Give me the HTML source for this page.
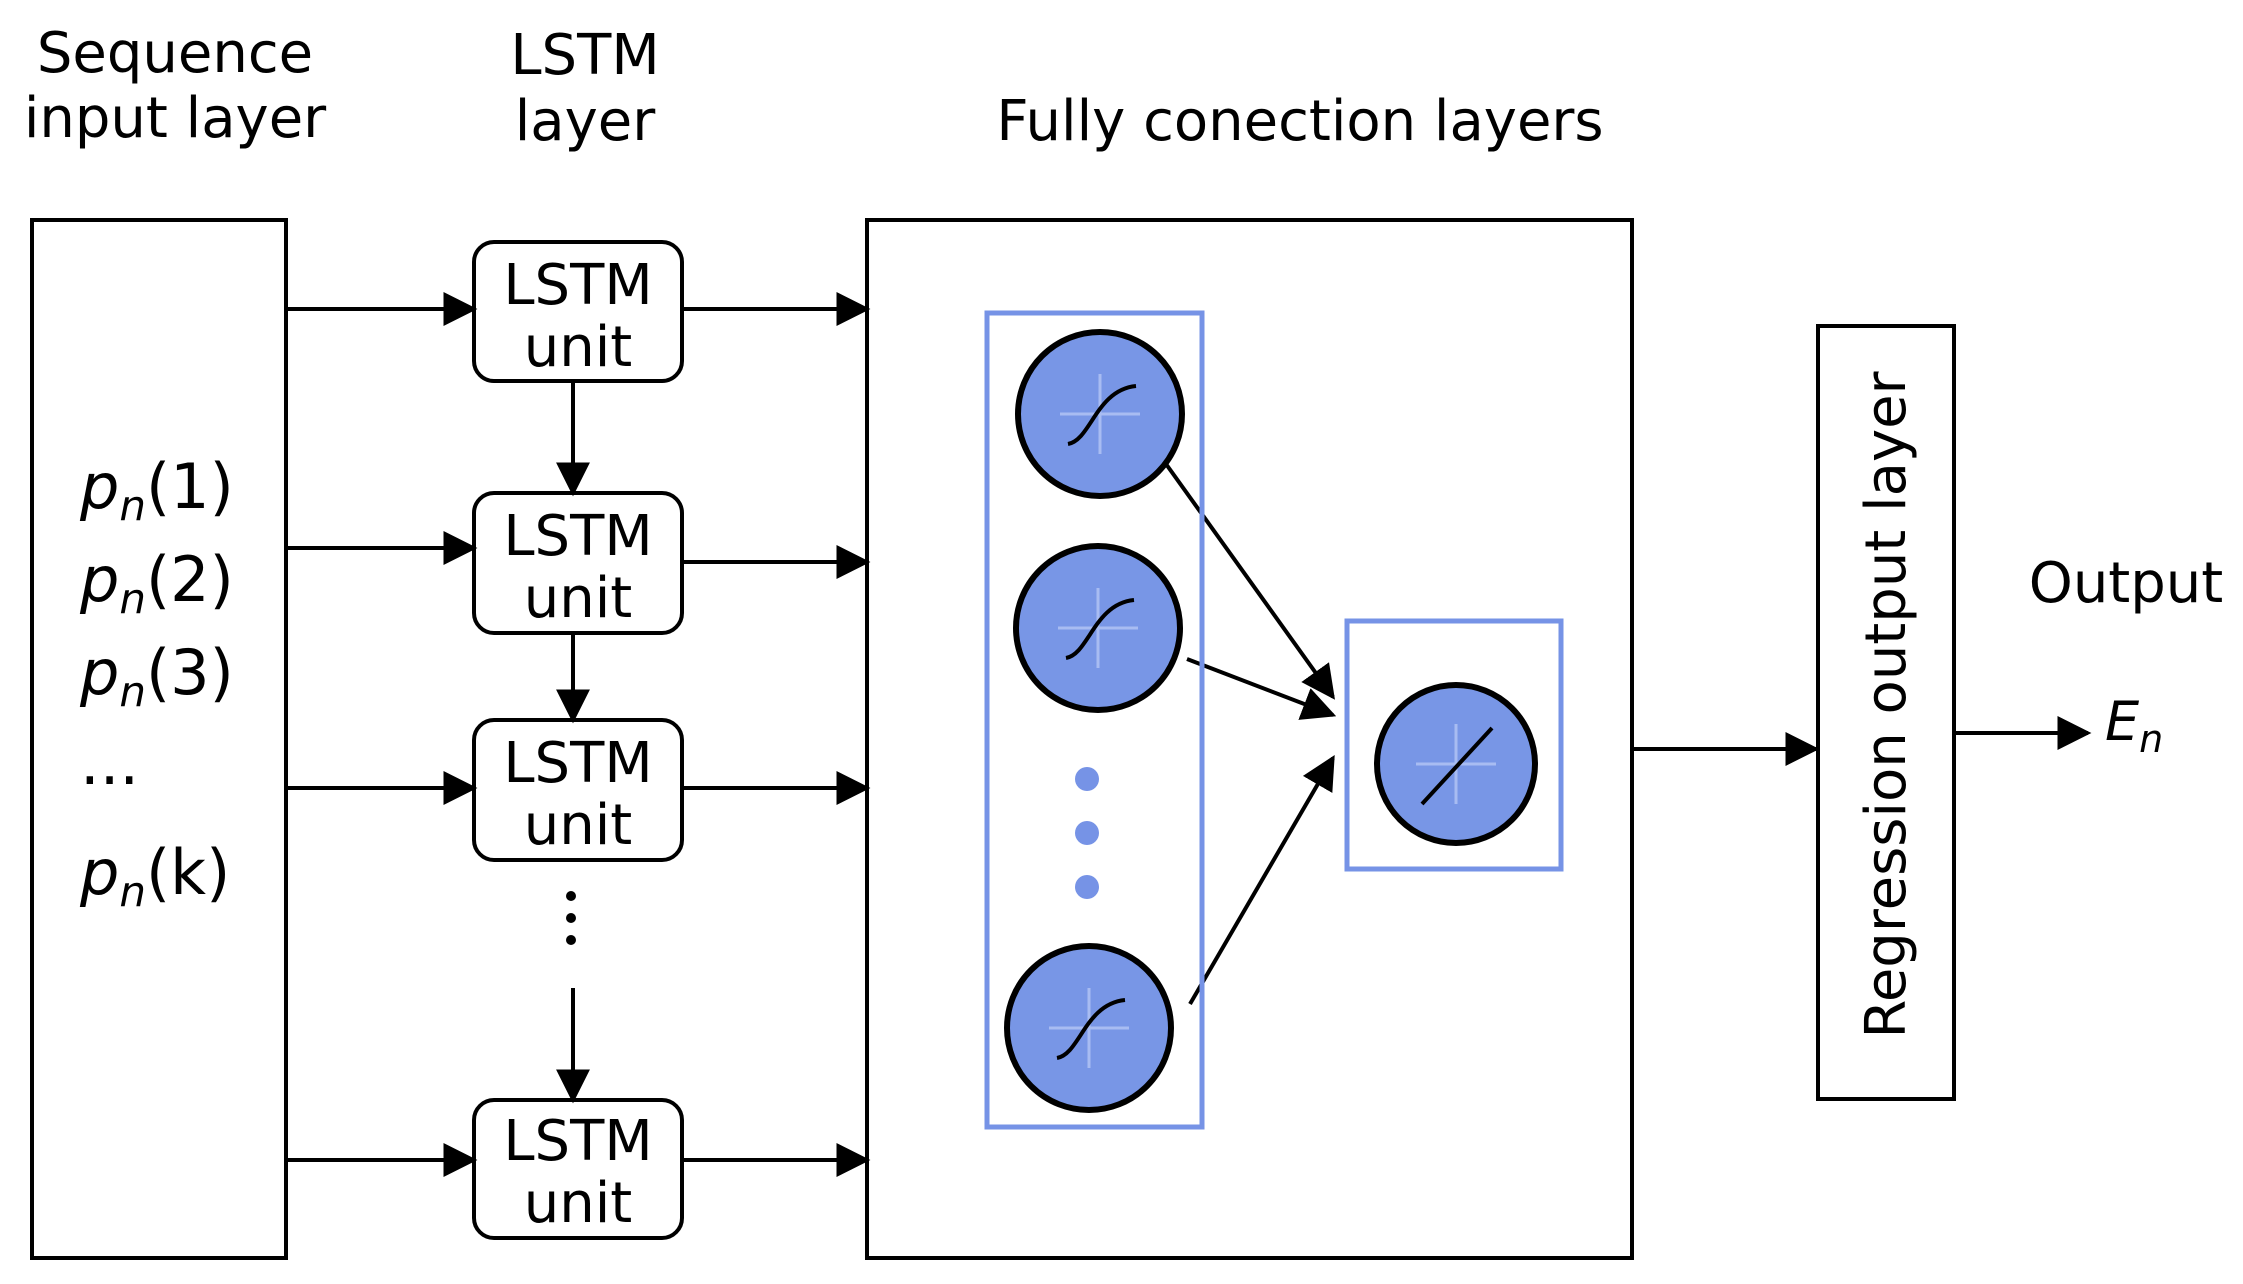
<!DOCTYPE html>
<html><head><meta charset="utf-8"><style>
html,body{margin:0;padding:0;background:#fff;}
svg{display:block;}
text{font-family:"DejaVu Sans","Liberation Sans",sans-serif;fill:#000;}
</style></head><body>
<svg width="2243" height="1284" viewBox="0 0 2243 1284" xmlns="http://www.w3.org/2000/svg">
<defs>
<marker id="b" viewBox="0 0 10 10" refX="9" refY="5" markerWidth="34" markerHeight="34" orient="auto" markerUnits="userSpaceOnUse">
<path d="M0,0 L10,5 L0,10 z" fill="#000"/></marker>
</defs>
<g font-size="56" text-anchor="middle">
<text x="175" y="72">Sequence</text>
<text x="175" y="137">input layer</text>
<text x="585" y="74">LSTM</text>
<text x="585" y="140">layer</text>
<text x="1300" y="140">Fully conection layers</text>
<text x="2126" y="602">Output</text>
</g>
<rect x="32" y="220" width="254" height="1038" fill="none" stroke="#000" stroke-width="4"/>
<g font-size="62" font-style="italic">
<text x="80" y="508">p<tspan font-size="42" dy="12">n</tspan><tspan font-style="normal" dy="-12">(1)</tspan></text>
<text x="80" y="601">p<tspan font-size="42" dy="12">n</tspan><tspan font-style="normal" dy="-12">(2)</tspan></text>
<text x="80" y="694">p<tspan font-size="42" dy="12">n</tspan><tspan font-style="normal" dy="-12">(3)</tspan></text>
<text x="80" y="784" font-style="normal">...</text>
<text x="80" y="894">p<tspan font-size="42" dy="12">n</tspan><tspan font-style="normal" dy="-12">(k)</tspan></text>
</g>
<g fill="#fff" stroke="#000" stroke-width="4">
<rect x="474" y="242" width="208" height="139" rx="20"/>
<rect x="474" y="493" width="208" height="140" rx="20"/>
<rect x="474" y="720" width="208" height="140" rx="20"/>
<rect x="474" y="1100" width="208" height="138" rx="20"/>
</g>
<g font-size="56" text-anchor="middle">
<text x="578" y="304">LSTM</text><text x="578" y="366">unit</text>
<text x="578" y="555">LSTM</text><text x="578" y="617">unit</text>
<text x="578" y="782">LSTM</text><text x="578" y="844">unit</text>
<text x="578" y="1160">LSTM</text><text x="578" y="1222">unit</text>
</g>
<g stroke="#000" stroke-width="4" fill="none" marker-end="url(#b)">
<line x1="286" y1="309" x2="474" y2="309"/>
<line x1="286" y1="548" x2="474" y2="548"/>
<line x1="286" y1="788" x2="474" y2="788"/>
<line x1="286" y1="1160" x2="474" y2="1160"/>
<line x1="682" y1="309" x2="867" y2="309"/>
<line x1="682" y1="562" x2="867" y2="562"/>
<line x1="682" y1="788" x2="867" y2="788"/>
<line x1="682" y1="1160" x2="867" y2="1160"/>
<line x1="573" y1="381" x2="573" y2="493"/>
<line x1="573" y1="633" x2="573" y2="720"/>
<line x1="573" y1="988" x2="573" y2="1100"/>
<line x1="1632" y1="749" x2="1816" y2="749"/>
<line x1="1954" y1="733" x2="2088" y2="733"/>
<line x1="1161" y1="457" x2="1333" y2="697"/>
<line x1="1187" y1="659" x2="1333" y2="715"/>
<line x1="1190" y1="1004" x2="1333" y2="758"/>
</g>
<g fill="#000"><circle cx="571" cy="896" r="5"/><circle cx="571" cy="918" r="5"/><circle cx="571" cy="940" r="5"/></g>
<rect x="867" y="220" width="765" height="1038" fill="none" stroke="#000" stroke-width="4"/>
<rect x="987" y="313" width="215" height="814" fill="none" stroke="#7693e6" stroke-width="5"/>
<rect x="1347" y="621" width="214" height="248" fill="none" stroke="#7693e6" stroke-width="5"/>
<g fill="#7896e6" stroke="#000" stroke-width="6">
<circle cx="1100" cy="414" r="82"/>
<circle cx="1098" cy="628" r="82"/>
<circle cx="1089" cy="1028" r="82"/>
<circle cx="1456" cy="764" r="79"/>
</g>
<g stroke="#a8bcf2" stroke-width="3">
<path d="M1100,374v80M1060,414h80"/><path d="M1098,588v80M1058,628h80"/><path d="M1089,988v80M1049,1028h80"/><path d="M1456,724v80M1416,764h80"/>
</g>
<g stroke="#000" stroke-width="4" fill="none">
<path d="M1068,444 C1091,440 1096,390 1136,386"/>
<path d="M1066,658 C1089,654 1094,604 1134,600"/>
<path d="M1057,1058 C1080,1054 1085,1004 1125,1000"/>
<path d="M1422,804 L1492,728"/>
</g>
<g fill="#7693e6"><circle cx="1087" cy="779" r="12"/><circle cx="1087" cy="833" r="12"/><circle cx="1087" cy="887" r="12"/></g>
<rect x="1818" y="326" width="136" height="773" fill="none" stroke="#000" stroke-width="4"/>
<text x="0" y="0" font-size="56" text-anchor="middle" transform="translate(1905,705) rotate(-90)">Regression output layer</text>
<text x="2105" y="740" font-size="54" font-style="italic">E<tspan font-size="38" dy="12">n</tspan></text>
</svg>
</body></html>
